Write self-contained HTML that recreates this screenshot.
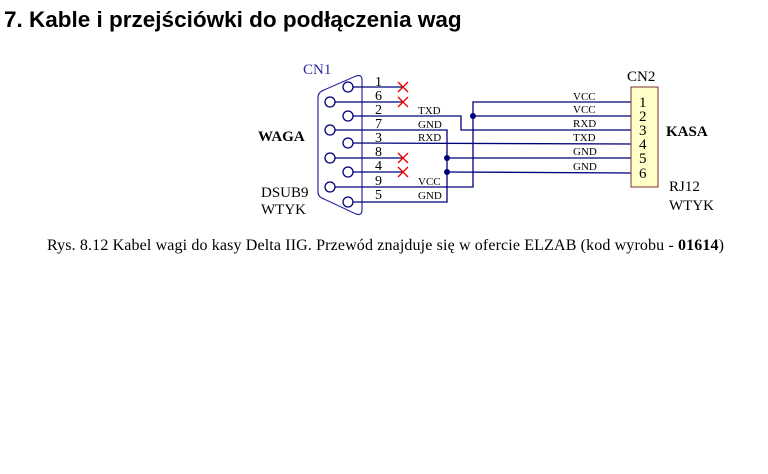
<!DOCTYPE html>
<html><head><meta charset="utf-8"><style>
body{margin:0;background:#fff;width:768px;height:474px;overflow:hidden}
.t{position:absolute;left:4px;top:7px;font:bold 22.5px "Liberation Sans",sans-serif;color:#000}
</style></head><body>
<div class="t">7. Kable i przejściówki do podłączenia wag</div>
<svg width="768" height="474" style="position:absolute;left:0;top:0" font-family="Liberation Serif, serif">
<path d="M324,90 Q318,92 318,98 L318,192 Q318,197 324,199 L356,214 Q362,216 362,210 L362,80 Q362,74 356,76 Z" fill="none" stroke="#2a2aa0" stroke-width="1.2"/>
<g stroke="#00007a" stroke-width="1.3" fill="none">
<line x1="353" y1="87" x2="404" y2="87"/>
<line x1="335" y1="102" x2="404" y2="102"/>
<polyline points="353,116 461,116 461,130 631,130"/>
<polyline points="335,130 447,130 447,202 353,202"/>
<line x1="353" y1="143" x2="631" y2="144"/>
<line x1="335" y1="158" x2="404" y2="158"/>
<line x1="353" y1="172" x2="404" y2="172"/>
<polyline points="335,187 473,187 473,102 631,102"/>
<line x1="473" y1="116" x2="631" y2="116"/>
<line x1="447" y1="158" x2="631" y2="158"/>
<line x1="447" y1="172" x2="631" y2="173"/>
<circle cx="348" cy="87" r="5"/><circle cx="330" cy="102" r="5"/><circle cx="348" cy="116" r="5"/>
<circle cx="330" cy="130" r="5"/><circle cx="348" cy="143" r="5"/><circle cx="330" cy="158" r="5"/>
<circle cx="348" cy="172" r="5"/><circle cx="330" cy="187" r="5"/><circle cx="348" cy="202" r="5"/>
</g>
<g fill="#00007a"><circle cx="473" cy="116" r="3"/><circle cx="447" cy="158" r="3"/><circle cx="447" cy="172" r="3"/></g>
<g stroke="#e00" stroke-width="1.4">
<path d="M398,82l10,10M408,82l-10,10M398,97l10,10M408,97l-10,10M398,153l10,10M408,153l-10,10M398,167l10,10M408,167l-10,10"/>
</g>
<rect x="631" y="87" width="27" height="100" fill="#ffffc8" stroke="#7a3030"/>
<g font-size="14" fill="#000">
<text x="375" y="86">1</text><text x="375" y="100">6</text><text x="375" y="114">2</text><text x="375" y="128">7</text><text x="375" y="142">3</text><text x="375" y="156">8</text><text x="375" y="170">4</text><text x="375" y="185">9</text><text x="375" y="199">5</text>
<g font-size="15"><text x="639" y="107">1</text><text x="639" y="121">2</text><text x="639" y="135">3</text><text x="639" y="149">4</text><text x="639" y="163">5</text><text x="639" y="178">6</text></g>
</g>
<g font-size="11" fill="#000">
<text x="418" y="114">TXD</text><text x="418" y="128">GND</text><text x="418" y="141">RXD</text><text x="418" y="185">VCC</text><text x="418" y="199">GND</text>
<text x="573" y="100">VCC</text><text x="573" y="113">VCC</text><text x="573" y="127">RXD</text><text x="573" y="141">TXD</text><text x="573" y="155">GND</text><text x="573" y="170">GND</text>
</g>
<g font-size="15" fill="#000">
<text x="303" y="74" fill="#2a2aa0">CN1</text>
<text x="627" y="81">CN2</text>
<text x="258" y="141" font-weight="bold">WAGA</text>
<text x="666" y="136" font-weight="bold">KASA</text>
<text x="261" y="197">DSUB9</text><text x="261" y="214">WTYK</text>
<text x="669" y="191">RJ12</text><text x="669" y="210">WTYK</text>
<text x="47" y="250" font-size="16" textLength="677" lengthAdjust="spacing">Rys. 8.12  Kabel wagi do kasy Delta IIG. Przewód znajduje się w ofercie ELZAB (kod wyrobu - <tspan font-weight="bold">01614</tspan>)</text>
</g>
</svg>
</body></html>
